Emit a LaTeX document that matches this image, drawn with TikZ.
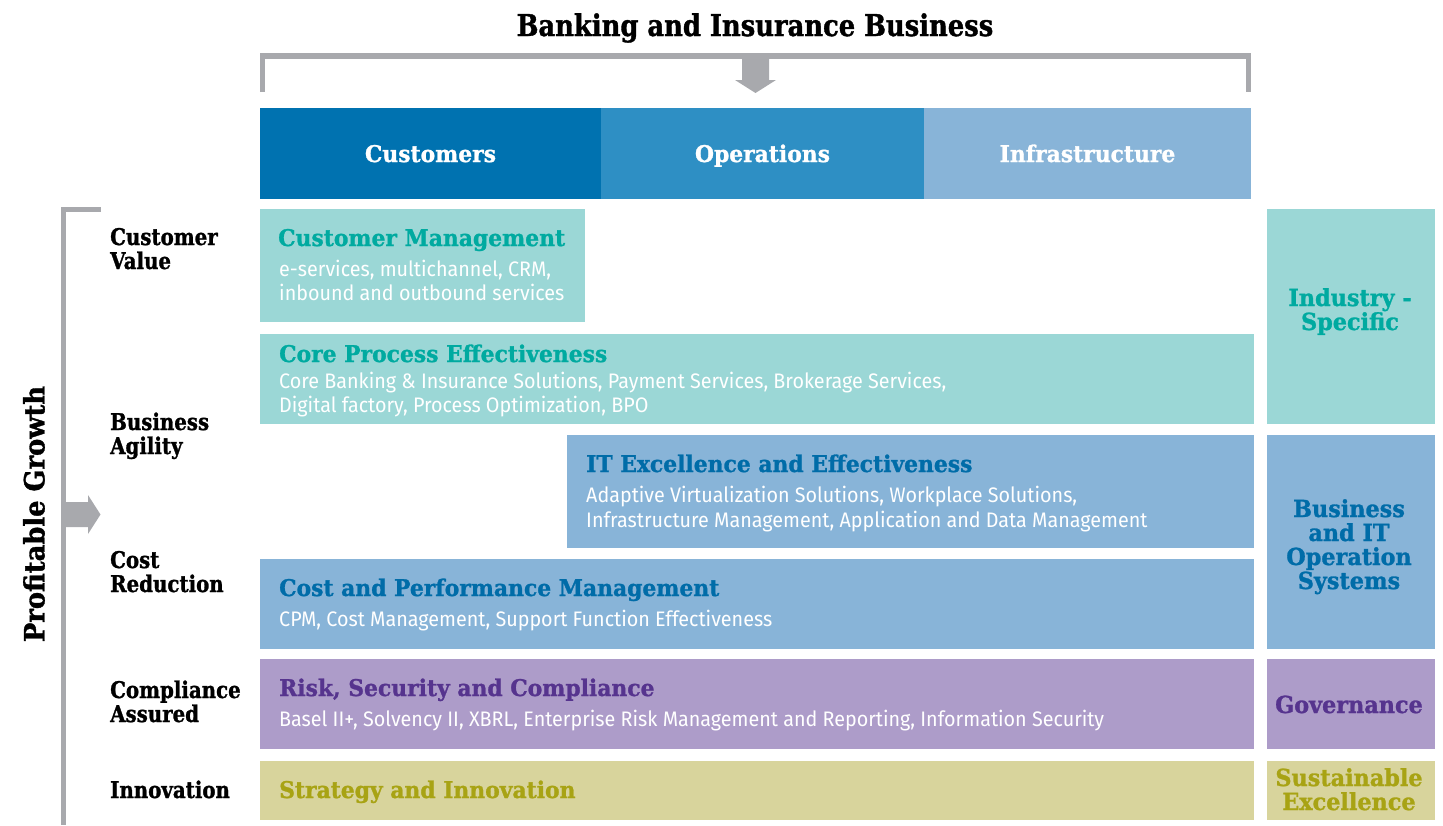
\documentclass[tikz,border=0pt]{standalone}
\usepackage{fontspec}
\newfontfamily\slab{DejaVu Serif}[FakeStretch=0.95,BoldFeatures={FakeBold=1.2}]
\newfontfamily\slabn{DejaVu Serif}[FakeStretch=0.86,BoldFeatures={FakeBold=1.2}]
\newfontfamily\slabp{DejaVu Serif}[FakeStretch=0.92,BoldFeatures={FakeBold=1.2}]
\newfontfamily\condsans{Fira Sans}[FakeStretch=0.94]
\definecolor{darkblue}{RGB}{0,114,176}
\definecolor{midblue}{RGB}{46,143,196}
\definecolor{lightblue}{RGB}{136,180,216}
\definecolor{tealbox}{RGB}{155,215,214}
\definecolor{tealtxt}{RGB}{0,170,160}
\definecolor{bluetxt}{RGB}{0,108,168}
\definecolor{purplebox}{RGB}{173,156,201}
\definecolor{purpletxt}{RGB}{86,52,142}
\definecolor{olivebox}{RGB}{216,212,156}
\definecolor{olivetxt}{RGB}{168,163,20}
\definecolor{bracket}{RGB}{168,169,173}
\tikzset{
  blk/.style={inner sep=0pt, outer sep=0pt, anchor=north west, draw=none},
  hdr/.style={text=white, font=\slab\bfseries\fontsize{23}{24}\selectfont, inner sep=0pt},
  ttl/.style={font=\slab\bfseries\fontsize{23}{24}\selectfont, inner sep=0pt, anchor=base west},
  sub/.style={text=white, font=\condsans\fontsize{21}{24}\selectfont, inner sep=0pt, anchor=base west},
  lbl/.style={text=black, font=\slabn\bfseries\fontsize{23}{24}\selectfont, inner sep=0pt, anchor=base west},
  rlbl/.style={font=\slab\bfseries\fontsize{23.5}{24}\selectfont, inner sep=0pt, anchor=base},
  brk/.style={draw=bracket, line width=5.5pt},
  garrow/.style={fill=bracket, draw=none}
}
\begin{document}
\begin{tikzpicture}[x=1pt,y=-1pt]
\useasboundingbox (0,0) rectangle (1443,825);
% title
\node[font=\slabn\bfseries\fontsize{30}{32}\selectfont, inner sep=0pt, anchor=base] (title) at (755,36) {Banking and Insurance Business};
% top bracket
\coordinate (tbl) at (262.5,92);
\coordinate (tbr) at (1248.5,92);
\draw[brk] (tbl) |- (755,56) -| (tbr);
\fill[garrow] (742,58) -- (769,58) -- (769,80) -- (776,80) -- (755.5,93) -- (735,80) -- (742,80) -- cycle;
% header
\node[blk, fill=darkblue, minimum width=341pt, minimum height=91pt] (cust) at (260,108) {};
\node[blk, fill=midblue, minimum width=323pt, minimum height=91pt] (oper) at (601,108) {};
\node[blk, fill=lightblue, minimum width=327pt, minimum height=91pt] (infr) at (924,108) {};
\node[hdr, anchor=base] (custL) at ([yshift=-8.5pt]cust.center) {Customers};
\node[hdr, anchor=base] (operL) at ([yshift=-8.5pt]oper.center) {Operations};
\node[hdr, anchor=base] (infrL) at ([yshift=-8.5pt]infr.center) {Infrastructure};
% left bracket
\coordinate (lbt) at (101,209.5);
\coordinate (lbb) at (63.5,825);
\draw[brk] (lbt) -| (lbb);
\fill[garrow] (66,502) -- (88,502) -- (88,495) -- (100.5,514.5) -- (88,534) -- (88,527) -- (66,527) -- cycle;
\node[font=\slabp\bfseries\fontsize{28}{30}\selectfont, inner sep=0pt, rotate=90] (pg) at (34,514) {Profitable Growth};
% left labels
\node[lbl] (lv1) at (110,245) {Customer};
\node[lbl] (lv2) at (110,269) {Value};
\node[lbl] (la1) at (110,430) {Business};
\node[lbl] (la2) at (110,454) {Agility};
\node[lbl] (lc1) at (110,568) {Cost};
\node[lbl] (lc2) at (110,592) {Reduction};
\node[lbl] (lp1) at (110,698) {Compliance};
\node[lbl] (lp2) at (110,722) {Assured};
\node[lbl] (li1) at (110,798) {Innovation};
% main boxes
\node[blk, fill=tealbox, minimum width=325pt, minimum height=113pt] (cm) at (260,209) {};
\node[ttl, text=tealtxt] (cmT) at (278,246) {Customer Management};
\node[sub] (cmS1) at (279,276) {e-services, multichannel, CRM,};
\node[sub] (cmS2) at (279,300) {inbound and outbound services};

\node[blk, fill=tealbox, minimum width=994pt, minimum height=90pt] (cp) at (260,334) {};
\node[ttl, text=tealtxt] (cpT) at (279,362) {Core Process Effectiveness};
\node[sub] (cpS1) at (279,388) {Core Banking \& Insurance Solutions, Payment Services, Brokerage Services,};
\node[sub] (cpS2) at (279,412) {Digital factory, Process Optimization, BPO};

\node[blk, fill=lightblue, minimum width=687pt, minimum height=113pt] (it) at (567,435) {};
\node[ttl, text=bluetxt] (itT) at (586,472) {IT Excellence and Effectiveness};
\node[sub] (itS1) at (586,502) {Adaptive Virtualization Solutions, Workplace Solutions,};
\node[sub] (itS2) at (586,527) {Infrastructure Management, Application and Data Management};

\node[blk, fill=lightblue, minimum width=994pt, minimum height=90pt] (cpm) at (260,559) {};
\node[ttl, text=bluetxt] (cpmT) at (279,596) {Cost and Performance Management};
\node[sub] (cpmS1) at (279,626) {CPM, Cost Management, Support Function Effectiveness};

\node[blk, fill=purplebox, minimum width=994pt, minimum height=90pt] (rsc) at (260,659) {};
\node[ttl, text=purpletxt] (rscT) at (279,696) {Risk, Security and Compliance};
\node[sub] (rscS1) at (279,726) {Basel II+, Solvency II, XBRL, Enterprise Risk Management and Reporting, Information Security};

\node[blk, fill=olivebox, minimum width=994pt, minimum height=59pt] (si) at (260,761) {};
\node[ttl, text=olivetxt] (siT) at (279,798) {Strategy and Innovation};
% right boxes
\node[blk, fill=tealbox, minimum width=168pt, minimum height=215pt] (ind) at (1267,209) {};
\node[rlbl, text=tealtxt] (ind1) at (1350,306) {Industry -};
\node[rlbl, text=tealtxt] (ind2) at (1350,330) {Specific};

\node[blk, fill=lightblue, minimum width=168pt, minimum height=214pt] (bit) at (1267,435) {};
\node[rlbl, text=bluetxt] (bit1) at (1349,517) {Business};
\node[rlbl, text=bluetxt] (bit2) at (1349,541) {and IT};
\node[rlbl, text=bluetxt] (bit3) at (1349,565) {Operation};
\node[rlbl, text=bluetxt] (bit4) at (1349,589) {Systems};

\node[blk, fill=purplebox, minimum width=168pt, minimum height=90pt] (gov) at (1267,659) {};
\node[rlbl, text=purpletxt] (gov1) at (1349,713) {Governance};

\node[blk, fill=olivebox, minimum width=168pt, minimum height=59pt] (sus) at (1267,761) {};
\node[rlbl, text=olivetxt] (sus1) at (1349,786) {Sustainable};
\node[rlbl, text=olivetxt] (sus2) at (1349,810) {Excellence};
\end{tikzpicture}
\end{document}
